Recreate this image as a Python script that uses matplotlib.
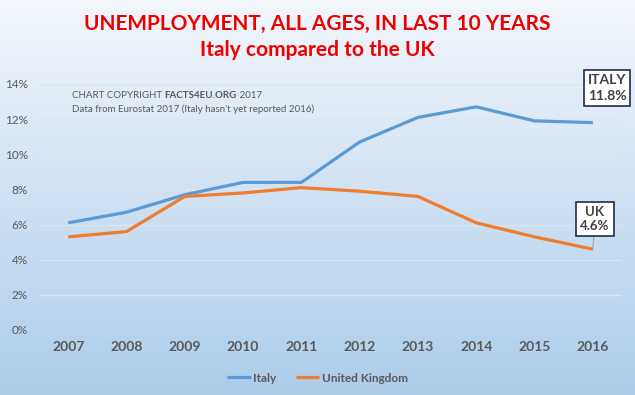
import matplotlib
matplotlib.use("Agg")
import matplotlib.pyplot as plt
import numpy as np

years = ["2007", "2008", "2009", "2010", "2011", "2012", "2013", "2014", "2015", "2016"]
italy = [6.1, 6.7, 7.7, 8.4, 8.4, 10.7, 12.1, 12.7, 11.9, 11.8]
uk = [5.3, 5.6, 7.6, 7.8, 8.1, 7.9, 7.6, 6.1, 5.3, 4.6]
yticks = [0, 2, 4, 6, 8, 10, 12, 14]

plt.rcParams['font.family'] = ['Lato', 'DejaVu Sans']

W, H = 635, 395
fig = plt.figure(figsize=(W / 100, H / 100), dpi=100)

# background gradient
bg = fig.add_axes([0, 0, 1, 1], zorder=-10)
top = np.array([0xf3, 0xf7, 0xfc]) / 255
bot = np.array([0xad, 0xcc, 0xea]) / 255
t = np.linspace(0, 1, 256)[:, None]
grad = (top[None, :] * (1 - t) + bot[None, :] * t)[:, None, :]
bg.imshow(grad, aspect='auto', extent=[0, 1, 0, 1], origin='upper')
bg.set_axis_off()

ax = fig.add_axes([39 / W, 65 / H, (622 - 39) / W, (330 - 84) / H])
ax.patch.set_alpha(0)
x = np.arange(len(years))
ax.plot(x, italy, color='#5B9BD5', lw=2.3, label='Italy', solid_capstyle='butt', zorder=3)
ax.plot(x, uk, color='#ED7D31', lw=2.3, label='United Kingdom', solid_capstyle='butt', zorder=3)
ax.set_xlim(-0.5, len(years) - 0.5)
ax.set_ylim(0, 14)
ax.set_yticks(yticks)
ax.set_yticklabels([f"{v}%" for v in yticks])
ax.set_xticks(x)
ax.set_xticklabels(years, fontweight='bold')
ax.grid(axis='y', color='#dde6ef', lw=0.9, zorder=0)
for s in ax.spines.values():
    s.set_visible(False)
ax.tick_params(length=0)
ax.tick_params(axis='y', labelsize=8.5, labelcolor='#595959', pad=8)
ax.tick_params(axis='x', labelsize=10, labelcolor='#595959', pad=8)

# titles
fig.text(0.5, 1 - 24 / H, "UNEMPLOYMENT, ALL AGES, IN LAST 10 YEARS", ha='center', va='center',
         color='#ee0000', fontsize=15, fontweight='bold')
fig.text(0.5, 1 - 50 / H, "Italy compared to the UK", ha='center', va='center',
         color='#ee0000', fontsize=15, fontweight='bold')

# copyright note
fig.canvas.draw()
r = fig.canvas.get_renderer()
t1 = fig.text(72 / W, 1 - 96 / H, "CHART COPYRIGHT ", ha='left', va='center', color='#595959', fontsize=7)
bb = t1.get_window_extent(r)
t2 = fig.text(bb.x1 / W, 1 - 96 / H, "FACTS4EU.ORG", ha='left', va='center', color='#595959',
              fontsize=7, fontweight='bold')
bb2 = t2.get_window_extent(r)
fig.text(bb2.x1 / W, 1 - 96 / H, " 2017", ha='left', va='center', color='#595959', fontsize=7)
fig.text(72 / W, 1 - 109 / H, "Data from Eurostat 2017 (Italy hasn't yet reported 2016)", ha='left',
         va='center', color='#595959', fontsize=7)

# callouts
box = dict(boxstyle='square,pad=0.3', fc='white', ec='#1f2a4d', lw=1.2)
ax.annotate("ITALY\n11.8%", xy=(x[-1], italy[-1]), xytext=(607 / W, 1 - 88 / H),
            textcoords='figure fraction', ha='center', va='center', fontsize=10, fontweight='bold',
            color='#404040', bbox=box, linespacing=1.3)
ax.annotate("UK\n4.6%", xy=(x[-1], uk[-1]), xytext=(595 / W, 1 - 219 / H),
            textcoords='figure fraction', ha='center', va='center', fontsize=9.5, fontweight='bold',
            color='#404040', bbox=box, linespacing=1.25,
            arrowprops=dict(arrowstyle='-', color='#a0a0a0', lw=0.8, shrinkA=0, shrinkB=0))

leg = fig.legend(loc='center', bbox_to_anchor=(0.5, 1 - 378 / H), ncol=2, frameon=False,
                 fontsize=8.5, handlelength=2.0, columnspacing=1.6, handletextpad=0.2)
for txt in leg.get_texts():
    txt.set_color('#595959')
    txt.set_fontweight('bold')

fig.savefig("out.png", dpi=100)
